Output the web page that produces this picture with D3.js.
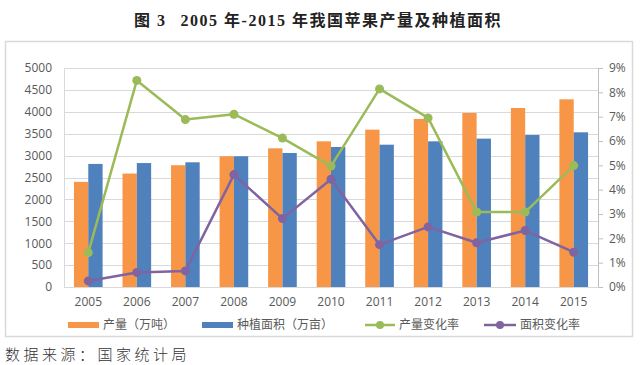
<!DOCTYPE html>
<html><head><meta charset="utf-8">
<script src="https://cdn.jsdelivr.net/npm/d3@7"></script>
<style>body{margin:0;background:#fff}svg{display:block}</style>
</head><body>
<svg id="c" width="640" height="365"></svg>
<script>
const years = ["2005","2006","2007","2008","2009","2010","2011","2012","2013","2014","2015"];
const production = [2400, 2590, 2780, 2985, 3166, 3326, 3593, 3836, 3973, 4087, 4285];
const area = [2810, 2830, 2847, 2985, 3060, 3197, 3249, 3326, 3387, 3470, 3532];
const prodRate = [1.41, 8.49, 6.88, 7.10, 6.12, 4.97, 8.14, 6.95, 3.08, 3.08, 4.99];
const areaRate = [0.25, 0.60, 0.66, 4.62, 2.81, 4.43, 1.74, 2.47, 1.82, 2.32, 1.43];
const leftTicks = [0,500,1000,1500,2000,2500,3000,3500,4000,4500,5000];
const rightTicks = [0,1,2,3,4,5,6,7,8,9];
const seriesNames = ["产量（万吨）","种植面积（万亩）","产量变化率","面积变化率"];
const colors = {prod:"#F79646", area:"#4F81BD", prodRate:"#9BBB59", areaRate:"#8064A2"};

const svg = d3.select("#c");
const L = 64, R = 598, T = 68, B = 287;
const x = d3.scaleBand().domain(years).range([L, R]).paddingInner(0.41).paddingOuter(0.205);
const xs = d3.scaleBand().domain(["p","a"]).range([0, x.bandwidth()]);
const yL = d3.scaleLinear().domain([0,5000]).range([B, T]);
const yR = d3.scaleLinear().domain([0,9]).range([B, T]);
const font = "'Open Sans','Noto Sans CJK SC',sans-serif";

// title
const title = svg.append("text").attr("x", 318).attr("y", 26).attr("text-anchor","middle")
  .attr("font-family","'Liberation Serif','Noto Sans CJK SC',serif").attr("font-weight","bold")
  .attr("font-size",16).attr("letter-spacing",1.5).attr("fill","#222").style("white-space","pre");
title.append("tspan").text("图 3");
title.append("tspan").attr("dx",14).text("2005 年-2015 年我国苹果产量及种植面积");

// chart border
svg.append("rect").attr("x",5.5).attr("y",41.5).attr("width",627).attr("height",295)
  .attr("fill","#fff").attr("stroke","#d9d9d9").attr("stroke-width",1.5);

// gridlines
svg.append("g").selectAll("line").data(leftTicks).join("line")
  .attr("x1",L).attr("x2",R).attr("y1",d=>Math.round(yL(d))+0.5).attr("y2",d=>Math.round(yL(d))+0.5)
  .attr("stroke","#d9d9d9");

// left axis
const gl = svg.append("g").attr("transform",`translate(${L},0)`)
  .call(d3.axisLeft(yL).tickValues(leftTicks).tickSize(0).tickPadding(12).tickFormat(d3.format("d")));
gl.select(".domain").attr("stroke","#d9d9d9");
gl.selectAll("text").attr("font-family",font).attr("font-size",12).attr("fill","#595959");

// right axis
const gr = svg.append("g").attr("transform",`translate(${R},0)`)
  .call(d3.axisRight(yR).tickValues(rightTicks).tickSize(5).tickPadding(6).tickFormat(d=>d+"%"));
gr.select(".domain").attr("stroke","#bfbfbf");
gr.selectAll(".tick line").attr("stroke","#bfbfbf");
gr.selectAll("text").attr("font-family",font).attr("font-size",12).attr("fill","#595959");

// bottom axis
const gb = svg.append("g").attr("transform",`translate(0,${B})`)
  .call(d3.axisBottom(x).tickSize(0).tickPadding(10));
gb.select(".domain").attr("stroke","#d9d9d9");
gb.selectAll("text").attr("font-family",font).attr("font-size",12).attr("fill","#595959");

// bars
svg.append("g").selectAll("rect").data(years).join("rect")
  .attr("x",d=>x(d)+xs("p")).attr("width",xs.bandwidth())
  .attr("y",(d,i)=>yL(production[i])).attr("height",(d,i)=>B-yL(production[i]))
  .attr("fill",colors.prod);
svg.append("g").selectAll("rect").data(years).join("rect")
  .attr("x",d=>x(d)+xs("a")).attr("width",xs.bandwidth())
  .attr("y",(d,i)=>yL(area[i])).attr("height",(d,i)=>B-yL(area[i]))
  .attr("fill",colors.area);

// lines
function drawLine(vals, col){
  const line = d3.line().x((d,i)=>x(years[i])+x.bandwidth()/2).y(d=>yR(d));
  svg.append("path").datum(vals).attr("d",line).attr("fill","none")
    .attr("stroke",col).attr("stroke-width",2.5).attr("stroke-linejoin","round");
  svg.append("g").selectAll("circle").data(vals).join("circle")
    .attr("cx",(d,i)=>x(years[i])+x.bandwidth()/2).attr("cy",d=>yR(d)).attr("r",4.5).attr("fill",col);
}
drawLine(prodRate, colors.prodRate);
drawLine(areaRate, colors.areaRate);

// legend
const lg = svg.append("g").attr("font-family",font).attr("font-size",12).attr("fill","#595959");
const ly = 325;
lg.append("rect").attr("x",68).attr("y",ly-3).attr("width",31).attr("height",6).attr("fill",colors.prod);
lg.append("text").attr("x",103).attr("y",ly+4).text(seriesNames[0]);
lg.append("rect").attr("x",202).attr("y",ly-3).attr("width",31).attr("height",6).attr("fill",colors.area);
lg.append("text").attr("x",237).attr("y",ly+4).text(seriesNames[1]);
lg.append("line").attr("x1",365).attr("x2",395).attr("y1",ly).attr("y2",ly).attr("stroke",colors.prodRate).attr("stroke-width",2.5);
lg.append("circle").attr("cx",380).attr("cy",ly).attr("r",4).attr("fill",colors.prodRate);
lg.append("text").attr("x",399).attr("y",ly+4).text(seriesNames[2]);
lg.append("line").attr("x1",484).attr("x2",516).attr("y1",ly).attr("y2",ly).attr("stroke",colors.areaRate).attr("stroke-width",2.5);
lg.append("circle").attr("cx",500).attr("cy",ly).attr("r",4).attr("fill",colors.areaRate);
lg.append("text").attr("x",520).attr("y",ly+4).text(seriesNames[3]);

// source
svg.append("text").attr("x",5).attr("y",360).attr("font-family","'Noto Sans CJK SC',sans-serif")
  .attr("font-size",15).attr("font-weight",300).attr("fill","#333").attr("letter-spacing",3.5).text("数据来源：国家统计局");
</script>
</body></html>
